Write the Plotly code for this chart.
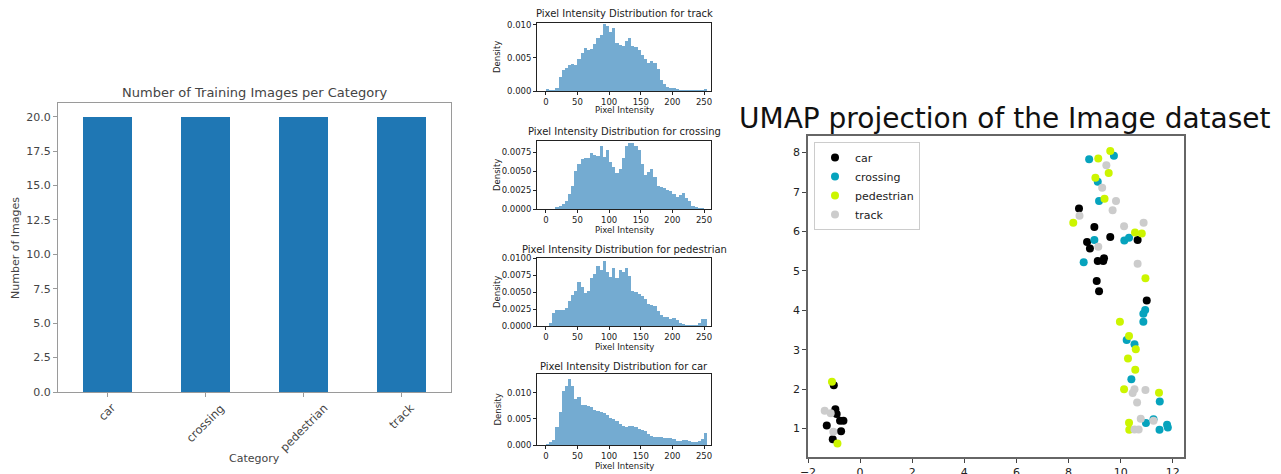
import numpy as np
import plotly.graph_objects as go

# ---------------- data ----------------
categories = ["car", "crossing", "pedestrian", "track"]
image_counts = [20, 20, 20, 20]

bin_width = 5
n_bins = 51  # 0..255

density_track = [
    .0003, .0002, .0002, .0005, .0021, .0032, .0035, .0040, .0041, .0040,
    .0048, .0058, .0065, .0062, .0063, .0071, .0081, .0085, .0101, .0099,
    .0089, .0095, .0072, .0070, .0068, .0075, .0080, .0068, .0066, .0062,
    .0055, .0048, .0043, .0045, .0042, .0034, .0017, .0010, .0006, .0005,
    .0004, .0003, .0002, .0002, .0002, .0001, .0001, .0001, .0002, .0002,
    .0003]
density_crossing = [
    0, 0, 0, .0003, .0004, .0006, .0010, .0020, .0031, .0050,
    .0060, .0066, .0067, .0067, .0074, .0072, .0070, .0084, .0069, .0078,
    .0062, .0055, .0048, .0053, .0068, .0083, .0087, .0088, .0084, .0078,
    .0060, .0045, .0049, .0053, .0042, .0030, .0029, .0028, .0025, .0024,
    .0020, .0016, .0018, .0021, .0015, .0010, .0004, .0002, .0001, .0001,
    0]
density_pedestrian = [
    0, .0005, .0019, .0024, .0023, .0024, .0026, .0037, .0045, .0052,
    .0064, .0058, .0049, .0052, .0070, .0076, .0088, .0083, .0095, .0080,
    .0072, .0085, .0070, .0083, .0079, .0086, .0073, .0051, .0050, .0047,
    .0044, .0040, .0033, .0031, .0030, .0022, .0016, .0013, .0013, .0011,
    .0012, .0009, .0005, .0003, .0002, .0002, .0002, .0002, .0004, .0010,
    .0011]
density_car = [
    .0001, .0005, .0010, .0034, .0064, .0104, .0113, .0126, .0113, .0088,
    .0092, .0077, .0076, .0075, .0074, .0068, .0066, .0064, .0061, .0058,
    .0052, .0050, .0046, .0041, .0036, .0034, .0036, .0037, .0035, .0030,
    .0029, .0026, .0022, .0018, .0016, .0015, .0015, .0014, .0014, .0013,
    .0011, .0008, .0008, .0009, .0009, .0008, .0006, .0006, .0008, .0011,
    .0024]

hist_order = ["track", "crossing", "pedestrian", "car"]
hist_values = {"track": density_track, "crossing": density_crossing,
               "pedestrian": density_pedestrian, "car": density_car}

umap_car_x = [8.40, 8.99, 8.71, 8.82, 9.60, 9.12, 9.33, 9.36, 9.08, 9.17, 10.65, 11.00,
              -1.01, -0.95, -0.90, -0.77, -0.64, -1.28, -0.73, -1.05]
umap_car_y = [6.58, 6.11, 5.73, 5.57, 5.86, 5.25, 5.25, 5.32, 4.74, 4.48, 5.78, 4.25,
              2.10, 1.49, 1.37, 1.20, 1.20, 1.08, 0.93, 0.73]
umap_crossing_x = [8.79, 9.74, 9.12, 9.17, 8.99, 8.58, 10.14, 10.32, 10.94, 10.87,
                   10.87, 10.23, 10.53, 10.41, 11.50, 10.97, 11.26, 11.49, 11.78, 11.81]
umap_crossing_y = [7.83, 7.92, 7.26, 6.77, 5.78, 5.22, 5.77, 5.84, 4.01, 3.91,
                   3.71, 3.25, 3.14, 2.25, 1.69, 1.14, 1.24, 0.97, 1.10, 1.03]
umap_pedestrian_x = [9.60, 9.14, 9.54, 9.03, 9.38, 8.18, 10.55, 10.81, 10.95, 9.97,
                     10.32, 10.58, 10.28, 10.56, 10.13, 11.47, 10.32, 10.33, -1.08, -0.87]
umap_pedestrian_y = [8.04, 7.85, 7.48, 7.36, 6.83, 6.22, 5.97, 5.95, 4.81, 3.71,
                     3.35, 3.01, 2.78, 2.49, 2.00, 1.91, 1.15, 0.97, 2.19, 0.62]
umap_track_x = [9.45, 9.29, 9.82, 9.69, 8.42, 10.13, 10.88, 9.14, 10.65, 10.53,
                10.46, 10.95, 10.63, 10.77, 11.26, 10.53, 10.69, -1.36, -1.13, -1.03]
umap_track_y = [7.68, 7.11, 6.77, 6.54, 6.40, 6.13, 6.22, 5.61, 5.18, 2.00,
                1.90, 1.98, 1.66, 1.25, 1.20, 0.98, 0.98, 1.45, 1.39, 0.92]

umap_colors = {"car": "#000000", "crossing": "#06a3bd",
               "pedestrian": "#ccf500", "track": "#cccccc"}

# ---------------- layout helpers ----------------
W, H = 1281, 474
FONT = "DejaVu Sans"


def dom_x(a, b):
    return [a / W, b / W]


def dom_y(top, bottom):
    return [1 - bottom / H, 1 - top / H]


def px(xp):
    return xp / W


def py(yp):
    return 1 - yp / H


def label(x, y, text, size, color, angle=0, xanchor="center", yanchor="middle"):
    return dict(x=px(x), y=py(y), xref="paper", yref="paper", text=text,
                textangle=angle, showarrow=False, xanchor=xanchor, yanchor=yanchor,
                font=dict(size=size, color=color, family=FONT))


fig = go.Figure()
annotations = []

# ---------------- bar chart ----------------
fig.add_trace(go.Bar(x=categories, y=image_counts, width=0.5,
                     marker=dict(color="#1f77b4", line=dict(width=0)),
                     xaxis="x", yaxis="y", showlegend=False))

bar_axis_col = "#9a9a9a"
bar_text_col = "#444444"
fig.update_layout(
    xaxis=dict(domain=dom_x(58, 451), range=[-0.5, 3.5], anchor="y",
               showline=True, mirror=True, linecolor=bar_axis_col, linewidth=1.2,
               ticks="outside", ticklen=4, tickcolor=bar_axis_col,
               showticklabels=False, showgrid=False, zeroline=False, automargin=False),
    yaxis=dict(domain=dom_y(103, 392), range=[0, 21], anchor="x",
               showline=True, mirror=True, linecolor=bar_axis_col, linewidth=1.2,
               ticks="outside", ticklen=4, tickcolor=bar_axis_col,
               tickvals=[0, 2.5, 5, 7.5, 10, 12.5, 15, 17.5, 20],
               tickformat=".1f", tickfont=dict(size=11, color=bar_text_col, family=FONT),
               showgrid=False, zeroline=False, automargin=False),
)
for c in categories:
    annotations.append(dict(x=c, xref="x", y=py(398), yref="paper", text=c,
                            textangle=-45, showarrow=False, xanchor="center",
                            yanchor="top",
                            font=dict(size=11.5, color=bar_text_col, family=FONT)))
annotations.append(label(254.5, 93, "Number of Training Images per Category", 13, bar_text_col))
annotations.append(label(254.5, 458, "Category", 11, bar_text_col))
annotations.append(label(15, 248, "Number of Images", 11, bar_text_col, angle=-90))

# ---------------- histograms ----------------
hist_rows = [  # (plot top px, plot bottom px, ymax, tick step, fmt, title y, xlabel y)
    (23, 91, 0.0103, 0.005, ".3f", 13, 110),
    (141, 209, 0.0090, 0.0025, ".4f", 131, 230),
    (258, 326, 0.0100, 0.0025, ".4f", 249, 347),
    (374, 445, 0.01365, 0.005, ".3f", 366, 466),
]
edges = np.arange(n_bins) * bin_width
centers = edges + bin_width / 2
hist_color = "rgba(31,119,180,0.62)"
hx0, hx1 = 537, 711
for i, name in enumerate(hist_order):
    k = i + 2
    top, bot, ymax, step, fmt, ty, ly = hist_rows[i]
    fig.add_trace(go.Bar(x=centers, y=hist_values[name], width=bin_width,
                         marker=dict(color=hist_color, line=dict(width=0)),
                         xaxis=f"x{k}", yaxis=f"y{k}", showlegend=False))
    fig.update_layout(**{
        f"xaxis{k}": dict(domain=dom_x(hx0, hx1), range=[-14, 261], anchor=f"y{k}",
                          showline=True, mirror=True, linecolor="#222", linewidth=0.8,
                          ticks="outside", ticklen=3, tickcolor="#222",
                          tickvals=[0, 50, 100, 150, 200, 250],
                          tickfont=dict(size=8.5, color="#222", family=FONT),
                          showgrid=False, zeroline=False, automargin=False),
        f"yaxis{k}": dict(domain=dom_y(top, bot), range=[0, ymax], anchor=f"x{k}",
                          showline=True, mirror=True, linecolor="#222", linewidth=0.8,
                          ticks="outside", ticklen=3, tickcolor="#222",
                          dtick=step, tick0=0, tickformat=fmt,
                          tickfont=dict(size=8.5, color="#222", family=FONT),
                          showgrid=False, zeroline=False, automargin=False),
    })
    annotations.append(label((hx0 + hx1) / 2, ty,
                             f"Pixel Intensity Distribution for {name}", 10, "#222"))
    annotations.append(label((hx0 + hx1) / 2, ly, "Pixel Intensity", 8.5, "#222"))
    annotations.append(label(497, (top + bot) / 2, "Density", 8.5, "#222", angle=-90))

# ---------------- UMAP scatter ----------------
umap_data = {
    "car": (umap_car_x, umap_car_y),
    "crossing": (umap_crossing_x, umap_crossing_y),
    "pedestrian": (umap_pedestrian_x, umap_pedestrian_y),
    "track": (umap_track_x, umap_track_y),
}
for name in categories:
    xs, ys = umap_data[name]
    fig.add_trace(go.Scatter(x=xs, y=ys, mode="markers", name=name,
                             marker=dict(size=8, color=umap_colors[name],
                                         line=dict(width=0)),
                             xaxis="x6", yaxis="y6"))

fig.update_layout(
    xaxis6=dict(domain=dom_x(808, 1184), range=[-2.0, 12.43], anchor="y6",
                showline=True, mirror=True, linecolor="#666", linewidth=1.5,
                ticks="outside", ticklen=4, tickcolor="#444", dtick=2, tick0=0,
                tickfont=dict(size=11, color="#222", family=FONT),
                showgrid=False, zeroline=False, automargin=False),
    yaxis6=dict(domain=dom_y(136, 457), range=[0.28, 8.42], anchor="x6",
                showline=True, mirror=True, linecolor="#666", linewidth=1.5,
                ticks="outside", ticklen=4, tickcolor="#444", dtick=1, tick0=0,
                tickfont=dict(size=11, color="#222", family=FONT),
                showgrid=False, zeroline=False, automargin=False),
)
annotations.append(label(1005, 119, "UMAP projection of the Image dataset", 28, "#111"))

fig.update_layout(
    width=W, height=H, margin=dict(l=0, r=0, t=0, b=0),
    paper_bgcolor="white", plot_bgcolor="white",
    font=dict(family=FONT),
    annotations=annotations,
    showlegend=True,
    legend=dict(x=px(814), y=py(142), xanchor="left", yanchor="top",
                bgcolor="white", bordercolor="#cccccc", borderwidth=1,
                font=dict(size=11, color="#222", family=FONT),
                tracegroupgap=0),
    bargap=0,
)

fig.write_html("out.html")
